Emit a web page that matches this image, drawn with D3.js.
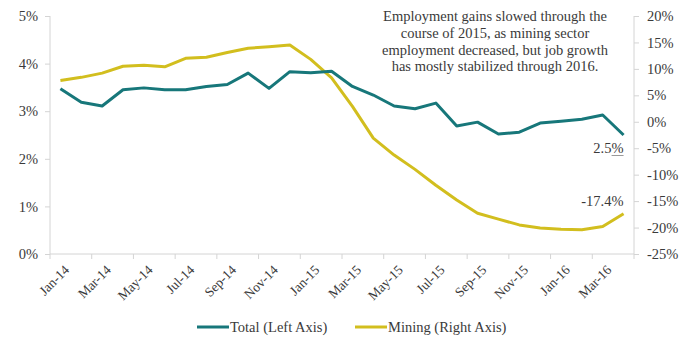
<!DOCTYPE html>
<html>
<head>
<meta charset="utf-8">
<script src="https://cdn.jsdelivr.net/npm/d3@7"></script>
<style>
  html, body { margin: 0; padding: 0; background: #fff; }
  svg { display: block; }
  svg text { font-family: "Liberation Serif", "DejaVu Serif", serif; fill: #3a3a3a; }
</style>
</head>
<body>
<svg id="chart" width="692" height="341"></svg>
<script>
// Monthly categories, Jan-2014 to Apr-2016
const months = [
  "Jan-14","Feb-14","Mar-14","Apr-14","May-14","Jun-14","Jul-14","Aug-14","Sep-14","Oct-14","Nov-14","Dec-14",
  "Jan-15","Feb-15","Mar-15","Apr-15","May-15","Jun-15","Jul-15","Aug-15","Sep-15","Oct-15","Nov-15","Dec-15",
  "Jan-16","Feb-16","Mar-16","Apr-16"
];
// Total employment growth, year over year (%), left axis
const totalGrowth = [
  3.47, 3.19, 3.11, 3.45, 3.49, 3.45, 3.45, 3.52, 3.56, 3.80, 3.48, 3.83,
  3.81, 3.84, 3.52, 3.34, 3.11, 3.05, 3.17, 2.69, 2.77, 2.52, 2.56, 2.75,
  2.79, 2.83, 2.92, 2.5
];
// Mining employment growth, year over year (%), right axis
const miningGrowth = [
  7.8, 8.4, 9.2, 10.5, 10.7, 10.4, 12.0, 12.2, 13.1, 13.9, 14.2, 14.5,
  11.8, 8.3, 2.9, -3.1, -6.3, -9.0, -12.0, -14.8, -17.3, -18.4, -19.5, -20.1,
  -20.3, -20.4, -19.8, -17.4
];
const leftTicks = [0, 1, 2, 3, 4, 5];
const rightTicks = [20, 15, 10, 5, 0, -5, -10, -15, -20, -25];
const noteLines = [
  "Employment gains slowed through the",
  "course of 2015, as mining sector",
  "employment decreased, but job growth",
  "has mostly stabilized through 2016."
];
const legendItems = ["Total (Left Axis)", "Mining (Right Axis)"];

const TEAL = "#17777a";
const GOLD = "#d2be1e";
const AXIS = "#d4d4d4";
const SERIF = "'Liberation Serif', 'DejaVu Serif', serif";

const svg = d3.select("#chart");
const plot = { left: 50, right: 634, top: 16, bottom: 254 };

const x = d3.scaleBand().domain(months).range([plot.left, plot.right]).padding(0);
const cx = m => x(m) + x.bandwidth() / 2;
const yL = d3.scaleLinear().domain([0, 5]).range([plot.bottom, plot.top]);
const yR = d3.scaleLinear().domain([-25, 20]).range([plot.bottom, plot.top]);

const fmtPct = d => d + "%";

// Left axis
const gL = svg.append("g").attr("transform", `translate(${plot.left},0)`)
  .call(d3.axisLeft(yL).tickValues(leftTicks).tickFormat(fmtPct).tickSize(5).tickPadding(7));
// Right axis
const gR = svg.append("g").attr("transform", `translate(${plot.right},0)`)
  .call(d3.axisRight(yR).tickValues(rightTicks).tickFormat(fmtPct).tickSize(5).tickPadding(8));
// Bottom axis: marks between every second month
const boundaryTicks = d3.range(0, months.length + 1, 2).map(i => plot.left + i * x.bandwidth());
const gB = svg.append("g").attr("transform", `translate(0,${plot.bottom})`);
gB.append("line").attr("x1", plot.left).attr("x2", plot.right).attr("stroke", AXIS);
gB.selectAll("line.tk").data(boundaryTicks).join("line").attr("class", "tk")
  .attr("x1", d => d).attr("x2", d => d).attr("y1", 0).attr("y2", 5).attr("stroke", AXIS);
gB.selectAll("text").data(months.filter((m, i) => i % 2 === 0)).join("text")
  .attr("transform", m => `translate(${cx(m) + 3},${10}) rotate(-45)`)
  .attr("text-anchor", "end").attr("dy", "0.7em")
  .style("font-family", SERIF).style("font-size", "13.5px").text(m => m);

[gL, gR].forEach(g => {
  g.attr("font-family", null).attr("font-size", null);
  g.select(".domain").attr("stroke", AXIS);
  g.selectAll(".tick line").attr("stroke", AXIS);
  g.selectAll(".tick text").style("font-size", "14.5px").style("font-family", SERIF).attr("fill", "#3a3a3a");
});
gL.select(".domain").attr("d", `M-0,${plot.top}V${plot.bottom}`);
gR.select(".domain").attr("d", `M0,${plot.top}V${plot.bottom}`);

// Series lines
const lineTotal = d3.line().x((d, i) => cx(months[i])).y(d => yL(d));
const lineMining = d3.line().x((d, i) => cx(months[i])).y(d => yR(d));
svg.append("path").datum(miningGrowth).attr("d", lineMining)
  .attr("fill", "none").attr("stroke", GOLD).attr("stroke-width", 3).attr("stroke-linejoin", "round");
svg.append("path").datum(totalGrowth).attr("d", lineTotal)
  .attr("fill", "none").attr("stroke", TEAL).attr("stroke-width", 3).attr("stroke-linejoin", "round");

// End-point value labels
const last = months.length - 1;
const tx = cx(months[last]), ty = yL(totalGrowth[last]);
svg.append("text").attr("x", tx).attr("y", ty + 18)
  .attr("text-anchor", "end").style("font-family", SERIF).style("font-size", "14.5px")
  .text(totalGrowth[last].toFixed(1) + "%");
svg.append("line").attr("x1", tx - 12).attr("x2", tx)
  .attr("y1", ty + 20.5).attr("y2", ty + 20.5)
  .attr("stroke", "#9a9a9a").attr("stroke-width", 1);
svg.append("text").attr("x", tx).attr("y", yR(miningGrowth[last]) - 8)
  .attr("text-anchor", "end").style("font-family", SERIF).style("font-size", "14.5px")
  .text(miningGrowth[last].toFixed(1) + "%");

// Annotation
svg.append("text").attr("x", 495).attr("y", 21).attr("text-anchor", "middle")
  .style("font-family", SERIF).style("font-size", "14.5px")
  .selectAll("tspan").data(noteLines).join("tspan")
  .attr("x", 495).attr("dy", (d, i) => i === 0 ? 0 : 16.8).text(d => d);

// Legend
const legend = svg.append("g").attr("transform", "translate(0,327)");
const legX = [197, 355];
const legColors = [TEAL, GOLD];
legendItems.forEach((t, i) => {
  legend.append("line").attr("x1", legX[i]).attr("x2", legX[i] + 32).attr("y1", 0).attr("y2", 0)
    .attr("stroke", legColors[i]).attr("stroke-width", 3);
  legend.append("text").attr("x", legX[i] + 33).attr("y", 0).attr("dy", "0.35em")
    .style("font-family", SERIF).style("font-size", "14.5px").text(t);
});
</script>
</body>
</html>
